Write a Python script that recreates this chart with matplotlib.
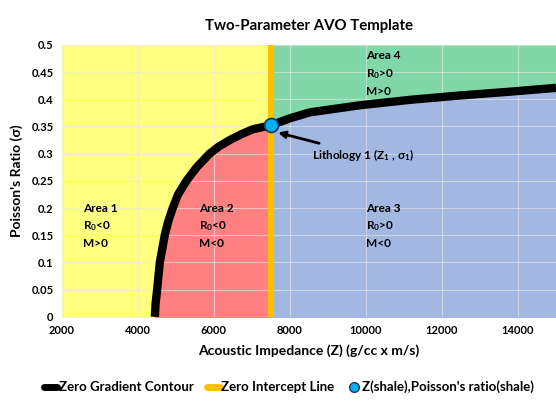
import numpy as np
import matplotlib.pyplot as plt
from matplotlib.lines import Line2D

plt.rcParams['font.family'] = ['Lato', 'DejaVu Sans']
plt.rcParams['mathtext.default'] = 'regular'

# zero gradient contour
z_curve = [4450, 4470, 4510, 4580, 4710, 4800, 4920, 5060, 5280, 5550, 5890,
           6130, 6420, 6700, 7030, 7500, 8000, 8530, 9840, 11160, 12470, 13790, 15000]
pr_curve = [0.0, 0.025, 0.05, 0.1, 0.15, 0.175, 0.2, 0.225, 0.25, 0.275, 0.3,
            0.313, 0.325, 0.335, 0.345, 0.352, 0.365, 0.376, 0.389, 0.399, 0.407, 0.414, 0.421]

z_shale = 7500
pr_shale = 0.352

area_labels = ['Area 1\nR$_0$<0\nM>0', 'Area 2\nR$_0$<0\nM<0',
               'Area 3\nR$_0$>0\nM<0', 'Area 4\nR$_0$>0\nM>0']
area_z = [2550, 5600, 10000, 10000]
area_pr = [0.21, 0.21, 0.21, 0.49]

z = np.array(z_curve)
pr = np.array(pr_curve)

fig = plt.figure(figsize=(5.56, 4.01), dpi=100)
ax = fig.add_axes([0.111, 0.21, 0.889, 0.678])

ax.set_xlim(2000, 15000)
ax.set_ylim(0, 0.5)

left = z <= z_shale
right = z >= z_shale
ax.fill_between([2000, z_shale], 0, 0.5, color='#FFFF80', zorder=0)
ax.fill_between(z[left], 0, pr[left], color='#FF8080', zorder=1)
ax.fill_between(z[right], pr[right], 0.5, color='#80D8A8', zorder=1)
ax.fill_between(z[right], 0, pr[right], color='#A2B8E0', zorder=1)

ax.grid(True, color='#E8E8E8', linewidth=0.8, alpha=0.6, zorder=2)
ax.set_axisbelow(False)

ax.axvline(z_shale, color='#FFC000', linewidth=4.5, zorder=3)
ax.plot(z, pr, color='black', linewidth=6, solid_capstyle='butt', zorder=4)
ax.plot([z_shale], [pr_shale], 'o', color='#00B0F0', markeredgecolor='#1F3864',
        markeredgewidth=1.3, markersize=10, zorder=5)

for lab, x, y in zip(area_labels, area_z, area_pr):
    ax.text(x, y, lab, fontsize=8.5, fontweight='bold', va='top', ha='left',
            linespacing=1.55, zorder=6)

ax.annotate('Lithology 1 (Z$_1$ , σ$_1$)', xy=(z_shale + 120, pr_shale - 0.012),
            xytext=(8580, 0.298), fontsize=8.5, fontweight='bold', va='center', ha='left',
            zorder=6, arrowprops=dict(arrowstyle='-|>', color='black', lw=2, mutation_scale=10))

ax.set_xticks(np.arange(2000, 15000, 2000))
ax.set_yticks(np.arange(0, 0.51, 0.05))
ax.set_yticklabels(['0', '0.05', '0.1', '0.15', '0.2', '0.25', '0.3', '0.35', '0.4', '0.45', '0.5'])
ax.tick_params(length=0, labelsize=8, pad=6)
for t in ax.get_xticklabels() + ax.get_yticklabels():
    t.set_fontweight('bold')
for s in ax.spines.values():
    s.set_visible(False)

ax.set_title('Two-Parameter AVO Template', fontsize=10.8, fontweight='bold', pad=11)
ax.set_xlabel('Acoustic Impedance (Z) (g/cc x m/s)', fontsize=10, fontweight='bold', labelpad=6)
ax.set_ylabel("Poisson's Ratio (σ)", fontsize=10, fontweight='bold', labelpad=6)

handles = [Line2D([], [], color='black', linewidth=5, solid_capstyle='round'),
           Line2D([], [], color='#FFC000', linewidth=5, solid_capstyle='round'),
           Line2D([], [], marker='o', linestyle='none', color='#00B0F0',
                  markeredgecolor='#1F3864', markersize=7)]
labels = ['Zero Gradient Contour', 'Zero Intercept Line', "Z(shale),Poisson's ratio(shale)"]
fig.legend(handles, labels, loc='center', bbox_to_anchor=(0.52, 0.035), ncol=3,
           frameon=False, prop={'size': 9.5, 'weight': 'bold'}, handlelength=1.0,
           handletextpad=0.1, columnspacing=1.0)

fig.savefig('out.png', dpi=100)
